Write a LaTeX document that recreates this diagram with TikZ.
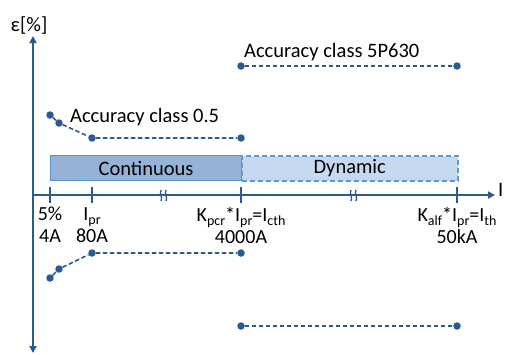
\documentclass[tikz,border=0pt]{standalone}
\usepackage{fontspec}
\setmainfont{Carlito}
\usetikzlibrary{arrows.meta}
\definecolor{axblue}{HTML}{2A5A8F}
\definecolor{contfill}{HTML}{95B3D7}
\definecolor{contdraw}{HTML}{558ED5}
\definecolor{dynfill}{HTML}{C6D9F1}
\definecolor{dyndraw}{HTML}{5B9BD5}
\newcommand\mysub[1]{\raisebox{-0.45ex}{\fontsize{14}{14}\selectfont #1}}
\begin{document}
\begin{tikzpicture}[x=1pt,y=-1pt,
  ax/.style={draw=axblue,line width=1.8pt},
  axarrow/.style={ax,-{Triangle[length=7pt,width=7pt]}},
  curve/.style={draw=axblue,line width=1.6pt,dash pattern=on 4.5pt off 2.5pt},
  dot/.style={circle,fill=axblue,inner sep=0pt,minimum size=7.5pt},
  lbl/.style={font=\fontsize{20.5}{22}\selectfont,text=black,inner sep=0pt},
  tlbl/.style={font=\fontsize{20}{22}\selectfont,text=black,inner sep=0pt,align=center,anchor=north},
  tick/.style={ax,line width=1.5pt},
  brk/.style={draw=axblue,line width=1.3pt}]
\useasboundingbox (0,0) rectangle (505,354);
% axes
\coordinate (o) at (33,195);
\coordinate (ytop) at (33,36);
\coordinate (ybot) at (33,353);
\coordinate (xend) at (495,195);
\draw[axarrow] (o) -- (ytop);
\draw[axarrow] (o) -- (ybot);
\draw[axarrow] (o) -- (xend);
\node[lbl,anchor=south] (eps) at (29,34) {ε[\%]};
\node[lbl,anchor=west] (ilab) at (498,190) {I};
% boxes
\node[draw=contdraw,fill=contfill,line width=1.2pt,minimum width=191pt,minimum height=25pt,anchor=north west,inner sep=0pt,font=\fontsize{20.5}{22}\selectfont] (cont) at (50,155) {Continuous};
\node[draw=dyndraw,fill=dynfill,dash pattern=on 5pt off 3pt,line width=1.5pt,minimum width=216pt,minimum height=25pt,anchor=north west,inner sep=0pt,font=\fontsize{20.5}{22}\selectfont] (dyn) at (241,155) {Dynamic};
% ticks
\foreach \n/\x in {t1/50,t2/92,t3/241,t4/457}{
  \coordinate (\n a) at (\x,187);
  \coordinate (\n b) at (\x,203);
  \draw[tick] (\n a) -- (\n b);
}
% break marks
\foreach \x in {161,166}{
  \draw[brk] (\x,190) .. controls (\x-2,194) and (\x+2,197) .. (\x,201);
  \draw[brk] (\x+190,190) .. controls (\x+188,194) and (\x+192,197) .. (\x+190,201);
}
% tick labels
\node[tlbl] (l1) at (50,207) {5\%\\4A};
\node[tlbl] (l2) at (92,207) {I\mysub{pr}\\80A};
\node[tlbl] (l3) at (241,207) {K\mysub{pcr}*I\mysub{pr}=I\mysub{cth}\\4000A};
\node[tlbl] (l4) at (457,207) {K\mysub{alf}*I\mysub{pr}=I\mysub{th}\\50kA};
% accuracy class 0.5
\node[dot] (a1) at (50,115) {};
\node[dot] (a2) at (59,123) {};
\node[dot] (a3) at (92,138) {};
\node[dot] (a4) at (241,138) {};
\draw[curve] (a1) -- (a2) -- (a3) -- (a4);
\node[dot] (b1) at (50,278) {};
\node[dot] (b2) at (59,269) {};
\node[dot] (b3) at (92,253) {};
\node[dot] (b4) at (241,253) {};
\draw[curve] (b1) -- (b2) -- (b3) -- (b4);
\node[lbl,anchor=west] (acc05) at (70,117) {Accuracy class 0.5};
% 5P630
\node[dot] (c1) at (241,66) {};
\node[dot] (c2) at (457,66) {};
\draw[curve] (c1) -- (c2);
\node[dot] (d1) at (241,326) {};
\node[dot] (d2) at (457,326) {};
\draw[curve] (d1) -- (d2);
\node[lbl,anchor=west] (acc5p) at (244,52) {Accuracy class 5P630};
\end{tikzpicture}
\end{document}
